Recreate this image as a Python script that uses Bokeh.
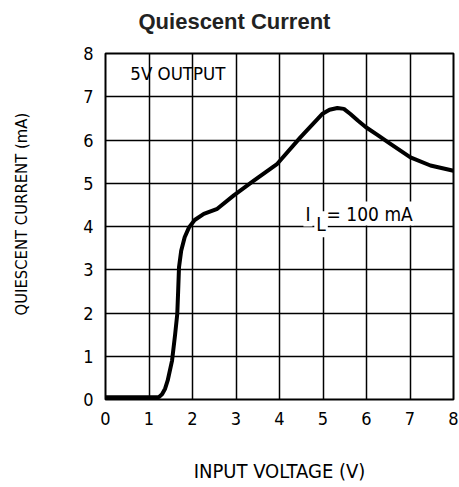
from bokeh.plotting import figure
from bokeh.models import Range1d, Label, FixedTicker, Title
from bokeh.embed import file_html
from bokeh.resources import INLINE

# Data
input_voltage = [0.0, 0.5, 1.0, 1.15, 1.23, 1.3, 1.37, 1.43, 1.53, 1.6, 1.65, 1.67, 1.69,
                 1.74, 1.82, 1.92, 2.05, 2.26, 2.57, 2.95, 3.41, 3.95, 4.48, 4.98, 5.15,
                 5.33, 5.48, 5.63, 5.8, 5.98, 6.25, 6.55, 7.01, 7.47, 8.0]
quiescent_ma = [0.05, 0.05, 0.05, 0.05, 0.06, 0.12, 0.25, 0.44, 0.9, 1.5, 1.98, 2.5, 3.06,
                3.44, 3.75, 3.98, 4.15, 4.29, 4.41, 4.72, 5.06, 5.45, 6.06, 6.6, 6.7,
                6.74, 6.72, 6.6, 6.45, 6.3, 6.12, 5.91, 5.6, 5.41, 5.29]
x_ticks = [0, 1, 2, 3, 4, 5, 6, 7, 8]
y_ticks = [0, 1, 2, 3, 4, 5, 6, 7, 8]

FONT = "DejaVu Sans Condensed"

p = figure(width=459, height=487, output_backend="svg", toolbar_location=None,
           x_range=Range1d(0, 8), y_range=Range1d(0, 8),
           min_border_left=105, min_border_right=6, min_border_top=53, min_border_bottom=88)

p.title.text = "Quiescent Current"
p.title.text_font = "Liberation Sans"
p.title.text_font_style = "bold"
p.title.text_font_size = "22px"
p.title.text_color = "#222222"
p.title.align = "left"
p.title.offset = 33
p.title.standoff = 2

# spacer between the title and the frame
p.add_layout(Title(text=" ", text_font_size="4px", standoff=12), "above")

p.outline_line_color = "black"
p.outline_line_width = 2
p.background_fill_color = "white"
p.border_fill_color = "white"

for ax in (p.xaxis[0], p.yaxis[0]):
    ax.axis_line_color = None
    ax.major_tick_line_color = None
    ax.minor_tick_line_color = None
    ax.major_tick_out = 0
    ax.major_tick_in = 0
    ax.major_label_text_font = FONT
    ax.major_label_text_font_size = "18px"
    ax.major_label_text_color = "black"
    ax.axis_label_text_font = FONT
    ax.axis_label_text_font_size = "20px"
    ax.axis_label_text_font_style = "normal"
    ax.axis_label_text_color = "black"

p.xaxis.ticker = FixedTicker(ticks=x_ticks)
p.yaxis.ticker = FixedTicker(ticks=y_ticks)
p.xaxis.major_label_standoff = 12
p.yaxis.major_label_standoff = 12
p.xaxis.axis_label = "INPUT VOLTAGE (V)"
p.xaxis.axis_label_standoff = 31

# spacer between the y tick labels and the y-axis title
p.add_layout(Title(text=" ", text_font_size="4px", standoff=34), "left")
# y-axis title as a vertical Title, starting 84px above the frame bottom
p.add_layout(Title(text="QUIESCENT CURRENT (mA)", text_font=FONT, text_font_size="16.5px",
                   text_font_style="normal", text_color="black", align="left",
                   offset=84, standoff=18), "left")

p.xgrid.ticker = FixedTicker(ticks=x_ticks)
p.ygrid.ticker = FixedTicker(ticks=y_ticks)
for g in (p.xgrid[0], p.ygrid[0]):
    g.grid_line_color = "black"
    g.grid_line_width = 1.5
    g.grid_line_alpha = 1.0

p.line(input_voltage, quiescent_ma, line_color="black", line_width=4,
       line_join="round", line_cap="round")

p.add_layout(Label(x=0.57, y=7.54, text="5V OUTPUT", text_font=FONT,
                   text_font_size="18.5px", text_color="black",
                   text_baseline="middle"))

p.add_layout(Label(x=4.55, y=4.3, text="I", text_font=FONT, text_font_size="19px",
                   text_color="black", text_baseline="middle",
                   background_fill_color="white", padding=2))
p.add_layout(Label(x=4.8, y=4.05, text="L", text_font=FONT, text_font_size="19px",
                   text_color="black", text_baseline="middle",
                   background_fill_color="white", padding=2))
p.add_layout(Label(x=5.06, y=4.3, text="= 100 mA", text_font=FONT, text_font_size="19px",
                   text_color="black", text_baseline="middle",
                   background_fill_color="white", padding=1))

open("out.html", "w").write(file_html(p, INLINE))
